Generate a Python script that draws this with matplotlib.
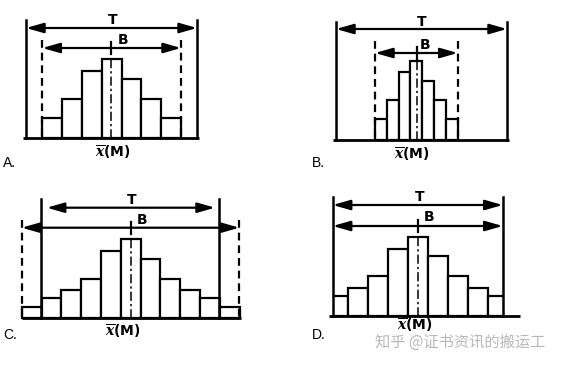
import numpy as np
import matplotlib
matplotlib.use("Agg")
import matplotlib.pyplot as plt
from matplotlib.patches import Rectangle

# ---- data (bar frequencies) ----
heights_A = [20, 39, 67, 79, 59, 39, 20]
heights_B = [21, 40, 68, 79, 59, 40, 21]
heights_C = [11, 20, 28, 39, 67, 79, 59, 39, 28, 20, 11]
heights_D = [20, 28, 40, 67, 79, 60, 40, 28, 20]
panel_labels = ["A.", "B.", "C.", "D."]
T_text = "T"
B_text = "B"
watermark = "知乎 @证书资讯的搬运工"

# ---- layout (pixel coordinates, y downwards) ----
panels = [
    dict(h=heights_A, base=138, line=(23, 199), T=(26, 197), T_top=20, T_y=28, T_arr=(26, 197),
         T_lab=(113, 20), B=(42.3, 181), B_top=40, B_y=48, B_dashed=True, B_lab=(123, 40),
         c=111, x0=42.3, w=19.8, clip=None, xbar=(113, 152), let=(3, 163)),
    dict(h=heights_B, base=140, line=(333, 509), T=(336, 507), T_top=22, T_y=29, T_arr=(336, 507),
         T_lab=(422, 22), B=(375, 457.7), B_top=41, B_y=53, B_dashed=True, B_lab=(425, 45),
         c=416.5, x0=375, w=11.8, clip=None, xbar=(412, 154), let=(312, 163)),
    dict(h=heights_C, base=317.7, line=(22, 241), T=(41, 219), T_top=199, T_y=207.7, T_arr=(46.7, 215),
         T_lab=(132, 200), B=(21.7, 239.3), B_top=220, B_y=227.7, B_dashed=True, B_lab=(142, 220),
         c=131, x0=21.7, w=19.8, clip=None, xbar=(122.7, 331.7), let=(3, 335)),
    dict(h=heights_D, base=315.7, line=(329, 520), T=(332.7, 502.7), T_top=196.7, T_y=205, T_arr=(332.7, 502.7),
         T_lab=(420, 197), B=(332.7, 502.7), B_top=None, B_y=226, B_dashed=False, B_lab=(429, 216.7),
         c=418.3, x0=328.4, w=19.9, clip=(332.7, 502.7), xbar=(415, 325.5), let=(312, 335)),
]

plt.rcParams["mathtext.fontset"] = "custom"
plt.rcParams["mathtext.bfit"] = "DejaVu Serif:bold:italic"

fig = plt.figure(figsize=(5.82, 3.65), dpi=100)
ax = fig.add_axes([0, 0, 1, 1])
ax.set_xlim(0, 582)
ax.set_ylim(365, 0)
ax.axis("off")

LW = 1.6
arrow_style = "<|-|>,head_length=0.7,head_width=0.2"

for i, p in enumerate(panels):
    h = np.array(p["h"], dtype=float)
    n = len(h)
    xs = p["x0"] + p["w"] * np.arange(n)
    bars = ax.bar(xs, h, width=p["w"], bottom=p["base"] - h, align="edge",
                  facecolor="white", edgecolor="black", linewidth=LW, zorder=2)
    if p["clip"] is not None:
        cr = Rectangle((p["clip"][0], 0), p["clip"][1] - p["clip"][0], 365, transform=ax.transData)
        for b in bars:
            b.set_clip_path(cr)
    # baseline
    ax.plot(p["line"], [p["base"], p["base"]], color="black", lw=LW + 0.4, zorder=3,
            solid_capstyle="butt")
    # T limits (solid)
    for x in p["T"]:
        ax.plot([x, x], [p["T_top"], p["base"]], color="black", lw=LW + 0.2, zorder=3)
    ax.annotate("", xy=(p["T_arr"][1], p["T_y"]), xytext=(p["T_arr"][0], p["T_y"]),
                arrowprops=dict(arrowstyle=arrow_style, color="black", lw=LW,
                                mutation_scale=15, shrinkA=0, shrinkB=0), zorder=4)
    ax.text(p["T_lab"][0], p["T_lab"][1], T_text, ha="center", va="center",
            fontsize=10, fontweight="bold", family="DejaVu Sans")
    # B limits
    if p["B_dashed"]:
        for x in p["B"]:
            ax.plot([x, x], [p["B_top"], p["base"]], color="black", lw=LW,
                    linestyle=(0, (3.5, 2.2)), zorder=3)
    ax.annotate("", xy=(p["B"][1], p["B_y"]), xytext=(p["B"][0], p["B_y"]),
                arrowprops=dict(arrowstyle=arrow_style, color="black", lw=LW,
                                mutation_scale=15, shrinkA=0, shrinkB=0), zorder=4)
    ax.text(p["B_lab"][0], p["B_lab"][1], B_text, ha="center", va="center",
            fontsize=10, fontweight="bold", family="DejaVu Sans")
    # center tick and dash-dot centre line
    ax.plot([p["c"], p["c"]], [p["B_y"] - 6, p["B_y"] + 6], color="black", lw=LW, zorder=4)
    ax.plot([p["c"], p["c"]], [p["base"] - h.max(), p["base"]], color="black", lw=1.1,
            linestyle=(0, (6, 2, 1.5, 2)), zorder=4)
    # x-bar label
    ax.text(p["xbar"][0], p["xbar"][1], r"$\overline{\mathbfit{x}}$" + "(M)", ha="center", va="center",
            fontsize=10, fontweight="bold", family="DejaVu Sans", zorder=5)
    # panel letter
    ax.text(p["let"][0], p["let"][1], panel_labels[i], ha="left", va="center",
            fontsize=10, family="Liberation Sans")

ax.text(375, 342, watermark, ha="left", va="center", fontsize=11, color="#b8b8b8",
        family=["Noto Sans CJK SC", "DejaVu Sans"], zorder=1)

fig.savefig("out.png", dpi=100, facecolor="white")
